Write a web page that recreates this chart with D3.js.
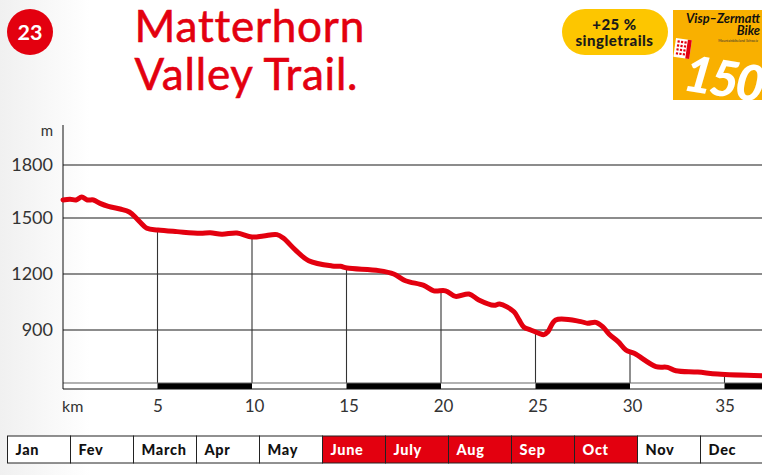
<!DOCTYPE html>
<html><head><meta charset="utf-8">
<script src="https://cdn.jsdelivr.net/npm/d3@7"></script>
<style>html,body{margin:0;padding:0;background:#fff}svg{display:block}text{font-family:Lato,sans-serif}</style>
</head><body><svg id="c" width="762" height="475"></svg>
<script>
const km=[0,.37,.69,.99,1.29,1.61,1.96,2.4,3.02,3.51,3.94,4.44,5.02,6.03,7.26,7.79,8.41,9.2,10,10.61,11.32,11.67,12.29,13,14.24,14.68,15.03,16.71,17.5,18.12,19.09,19.62,20.24,20.77,21.48,22,22.8,23.1,23.86,24.13,24.39,24.75,25.19,25.45,25.66,26.07,27.4,27.75,28.19,28.55,28.9,29.37,29.78,30.22,31.37,31.99,32.43,33.58,34.64,37.1];
const elevation=[1602,1606,1602,1619,1602,1602,1583,1566,1551,1534,1493,1445,1436,1427,1418,1421,1413,1420,1398,1404,1411,1391,1329,1271,1243,1241,1232,1218,1200,1164,1139,1110,1110,1080,1093,1061,1032,1039,998,954,915,900,882,875,891,954,945,936,941,918,877,838,793,775,704,700,682,675,664,654];
const elevTicks=[900,1200,1500,1800];
const kmTicks=[5,10,15,20,25,30,35];
const months=["Jan","Fev","March","Apr","May","June","July","Aug","Sep","Oct","Nov","Dec"];
const activeMonths=["June","July","Aug","Sep","Oct"];
const RED="#e3000f";
const svg=d3.select("#c");
const defs=svg.append("defs");
const g=defs.append("linearGradient").attr("id","bg");
g.append("stop").attr("offset",0).attr("stop-color","#f0f0f0");
g.append("stop").attr("offset",1).attr("stop-color","#fff");
svg.append("rect").attr("width",90).attr("height",475).attr("fill","url(#bg)");

const x=d3.scaleLinear().domain([0,35]).range([63,724.5]);
const y=d3.scaleLinear().domain([900,1200,1500,1800]).range([330,274,218,165]);
const base=383, bottom=389;

// header
svg.append("circle").attr("cx",30).attr("cy",32).attr("r",23).attr("fill",RED);
svg.append("text").attr("x",30).attr("y",40).attr("text-anchor","middle").attr("fill","#fff").attr("font-size",21.5).attr("font-weight",700).text("23");
svg.selectAll(".t").data(["Matterhorn","Valley Trail."]).join("text")
 .attr("x",134.5).attr("y",(d,i)=>42+i*47.5).attr("fill",RED).attr("stroke",RED).attr("stroke-width",.6).attr("font-size",44).attr("letter-spacing",.8).text(d=>d);

// pill
svg.append("rect").attr("x",562).attr("y",9).attr("width",106).attr("height",46).attr("rx",23).attr("fill","#fdc600");
svg.selectAll(".p").data(["+25 %","singletrails"]).join("text").attr("x",614.5).attr("y",(d,i)=>30+i*15.5)
 .attr("text-anchor","middle").attr("font-size",15).attr("letter-spacing",.5).attr("font-weight",900).attr("fill","#1a1a1a").text(d=>d);

// logo
svg.append("rect").attr("x",673).attr("y",10).attr("width",89).attr("height",90).attr("fill","#f9b000");
svg.selectAll(".l").data(["Visp–Zermatt","Bike"]).join("text").attr("x",760).attr("y",(d,i)=>22.5+i*12.5)
 .attr("text-anchor","end").attr("font-size",12.8).attr("font-weight",700).attr("font-style","italic").attr("fill","#111").text(d=>d);
svg.append("text").attr("x",758).attr("y",42).attr("text-anchor","end").attr("font-size",3.4).attr("fill","#333").text("Mountainbikeland Schweiz");
const flag=svg.append("g").attr("transform","translate(676,38) rotate(8)");
flag.append("rect").attr("width",16).attr("height",19).attr("fill","#fff");
flag.append("rect").attr("x",12).attr("width",4).attr("height",19).attr("fill",RED);
flag.selectAll("rect.d").data(d3.range(12)).join("rect").attr("class","d").attr("x",d=>2+(d%3)*3.5).attr("y",d=>2+Math.floor(d/3)*4).attr("width",2.2).attr("height",2.2).attr("fill",RED);
svg.append("clipPath").attr("id","lg").append("rect").attr("x",673).attr("y",10).attr("width",89).attr("height",90);
svg.append("g").attr("clip-path","url(#lg)").append("text").attr("transform","translate(682,90) rotate(9)").attr("font-size",50).attr("font-weight",900).attr("font-style","italic").attr("letter-spacing",-3).attr("fill","#fff").text("150");

// y axis & grid
const yAxis=d3.axisLeft(y).tickValues(elevTicks).tickSize(0).tickPadding(10).tickFormat(d3.format("d"));
const ya=svg.append("g").attr("transform","translate(63,0)").call(yAxis);
ya.select(".domain").remove();
ya.selectAll("text").attr("font-size",18).attr("font-family","Lato").attr("fill","#333").attr("x",-10);
svg.selectAll(".grid").data(elevTicks).join("line").attr("x1",63).attr("x2",762).attr("y1",d=>y(d)).attr("y2",d=>y(d)).attr("stroke","#666").attr("stroke-width",1.4);
svg.append("text").attr("x",53).attr("y",136).attr("text-anchor","end").attr("font-size",15).attr("fill","#333").text("m");

// drop lines
const line=d3.line().x((d,i)=>x(km[i])).y((d,i)=>y(elevation[i])).curve(d3.curveCatmullRom.alpha(.5));
const elevAt=k=>{const i=d3.bisectLeft(km,k);const t=(k-km[i-1])/(km[i]-km[i-1]);return elevation[i-1]+t*(elevation[i]-elevation[i-1]);};
svg.selectAll(".drop").data(kmTicks).join("line").attr("x1",d=>x(d)).attr("x2",d=>x(d)).attr("y1",d=>y(elevAt(d))).attr("y2",base).attr("stroke","#333").attr("stroke-width",1.1);

// km bar
const segs=d3.range(0,8).map(i=>i*5);
svg.selectAll(".seg").data(segs).join("rect").attr("x",d=>x(d)).attr("y",base).attr("width",d=>Math.min(x(d+5),762)-x(d)).attr("height",bottom-base)
 .attr("fill",(d,i)=>i%2?"#000":"#fff");
svg.append("line").attr("x1",63).attr("x2",762).attr("y1",base).attr("y2",base).attr("stroke","#666").attr("stroke-width",1.2);
svg.append("line").attr("x1",63).attr("x2",762).attr("y1",bottom).attr("y2",bottom).attr("stroke","#111").attr("stroke-width",1);
svg.append("line").attr("x1",63).attr("x2",63).attr("y1",125).attr("y2",bottom).attr("stroke","#111").attr("stroke-width",1);

// x axis
const xAxis=d3.axisBottom(x).tickValues(kmTicks).tickSize(0).tickPadding(0).tickFormat(d3.format("d"));
const xa=svg.append("g").attr("transform","translate(0,400)").call(xAxis);
xa.select(".domain").remove();
xa.selectAll("text").attr("font-size",17).attr("font-family","Lato").attr("fill","#333").attr("dy","0.7em");
xa.selectAll(".tick text").attr("dx",d=>d===5||d===35?0:2);
svg.append("text").attr("x",62).attr("y",412).attr("font-size",16).attr("fill","#333").text("km");

// profile
svg.append("path").attr("d",line(km)).attr("fill","none").attr("stroke",RED).attr("stroke-width",5).attr("stroke-linecap","round").attr("stroke-linejoin","round");

// months
const m=d3.scaleBand().domain(months).range([7.5,763.5]);
const cells=svg.selectAll(".m").data(months).join("g").attr("transform",d=>`translate(${m(d)},436)`);
cells.append("rect").attr("width",m.bandwidth()).attr("height",27).attr("fill",d=>activeMonths.includes(d)?RED:"#fff").attr("stroke","#222").attr("stroke-width",1);
cells.append("text").attr("x",8).attr("y",19).attr("font-size",14.5).attr("font-weight",900).attr("letter-spacing",.7).attr("fill",d=>activeMonths.includes(d)?"#fff":"#111").text(d=>d);
</script></body></html>
